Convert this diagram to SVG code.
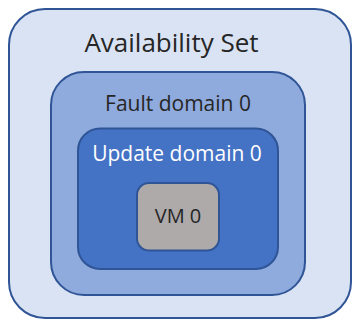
<svg xmlns="http://www.w3.org/2000/svg" width="353" height="321" viewBox="0 0 353 321">
<style>
.box{stroke:#2f5597;stroke-width:2}
.t{font-family:"Open Sans","Liberation Sans",sans-serif;text-anchor:middle;fill:#262626}
</style>
<rect width="353" height="321" fill="#ffffff"/>
<g id="availability-set">
<rect class="box" x="9" y="9" width="342" height="309" rx="36" fill="#dae3f3"/>
<text class="t" x="171.5" y="52" font-size="26">Availability Set</text>
</g>
<g id="fault-domain-0">
<rect class="box" x="51" y="72" width="254" height="223" rx="33" fill="#8faadc"/>
<text class="t" x="178" y="111" font-size="21">Fault domain 0</text>
</g>
<g id="update-domain-0">
<rect class="box" x="78" y="128.5" width="200" height="140.5" rx="22" fill="#4472c4"/>
<text class="t" x="177" y="160.5" font-size="21" style="fill:#ffffff">Update domain 0</text>
</g>
<g id="vm-0">
<rect class="box" x="137" y="183" width="82" height="67.5" rx="12" fill="#aeaaaa"/>
<text class="t" x="178" y="223" font-size="20">VM 0</text>
</g>
<g id="connectors"></g>
</svg>
